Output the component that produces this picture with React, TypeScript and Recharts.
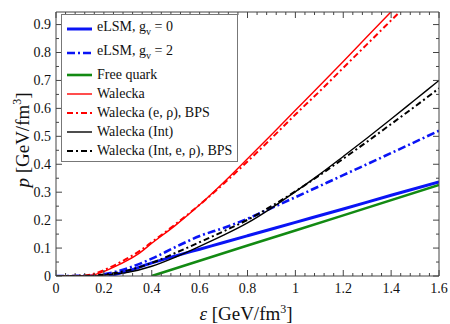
import React from 'react';
import { LineChart, Line, XAxis, YAxis, Legend } from 'recharts';

// energy density (GeV/fm^3) vs pressure (GeV/fm^3)
const eLSM0 = [
  { e: 0.22, p: 0 }, { e: 0.3, p: 0.018 }, { e: 0.4, p: 0.047 }, { e: 0.5, p: 0.072 },
  { e: 0.6, p: 0.096 }, { e: 0.7, p: 0.12 }, { e: 0.8, p: 0.144 }, { e: 1.0, p: 0.192 },
  { e: 1.2, p: 0.24 }, { e: 1.4, p: 0.289 }, { e: 1.6, p: 0.337 },
];
const eLSM2 = [
  { e: 0, p: 0 }, { e: 0.15, p: 0.001 }, { e: 0.2, p: 0.006 }, { e: 0.25, p: 0.015 },
  { e: 0.3, p: 0.028 }, { e: 0.4, p: 0.062 }, { e: 0.5, p: 0.104 }, { e: 0.6, p: 0.143 },
  { e: 0.7, p: 0.172 }, { e: 0.8, p: 0.205 }, { e: 0.9, p: 0.243 }, { e: 1.0, p: 0.282 },
  { e: 1.2, p: 0.361 }, { e: 1.4, p: 0.44 }, { e: 1.6, p: 0.52 },
];
const freeQuark = [
  { e: 0.4, p: 0 }, { e: 0.8, p: 0.109 }, { e: 1.2, p: 0.217 }, { e: 1.6, p: 0.326 },
];
const walecka = [
  { e: 0, p: 0 }, { e: 0.1, p: 0 }, { e: 0.15, p: 0.003 }, { e: 0.2, p: 0.016 },
  { e: 0.25, p: 0.035 }, { e: 0.3, p: 0.057 }, { e: 0.35, p: 0.083 }, { e: 0.4, p: 0.117 },
  { e: 0.5, p: 0.182 }, { e: 0.6, p: 0.255 }, { e: 0.7, p: 0.335 }, { e: 0.8, p: 0.42 },
  { e: 0.9, p: 0.506 }, { e: 1.0, p: 0.593 }, { e: 1.1, p: 0.68 }, { e: 1.2, p: 0.768 },
  { e: 1.3, p: 0.857 }, { e: 1.4, p: 0.946 }, { e: 1.5, p: 1.035 },
];
const waleckaBPS = [
  { e: 0, p: 0 }, { e: 0.1, p: 0.001 }, { e: 0.15, p: 0.006 }, { e: 0.2, p: 0.021 },
  { e: 0.25, p: 0.041 }, { e: 0.3, p: 0.064 }, { e: 0.35, p: 0.09 }, { e: 0.4, p: 0.121 },
  { e: 0.5, p: 0.186 }, { e: 0.6, p: 0.255 }, { e: 0.7, p: 0.33 }, { e: 0.8, p: 0.41 },
  { e: 0.9, p: 0.493 }, { e: 1.0, p: 0.578 }, { e: 1.1, p: 0.66 }, { e: 1.2, p: 0.745 },
  { e: 1.3, p: 0.83 }, { e: 1.4, p: 0.915 }, { e: 1.5, p: 1.0 },
];
const waleckaInt = [
  { e: 0, p: 0 }, { e: 0.15, p: 0 }, { e: 0.2, p: 0.003 }, { e: 0.3, p: 0.013 },
  { e: 0.4, p: 0.035 }, { e: 0.5, p: 0.068 }, { e: 0.6, p: 0.106 }, { e: 0.7, p: 0.146 },
  { e: 0.8, p: 0.19 }, { e: 0.9, p: 0.243 }, { e: 1.0, p: 0.302 }, { e: 1.1, p: 0.363 },
  { e: 1.2, p: 0.428 }, { e: 1.3, p: 0.494 }, { e: 1.4, p: 0.562 }, { e: 1.5, p: 0.631 },
  { e: 1.6, p: 0.7 },
];
const waleckaIntBPS = [
  { e: 0, p: 0 }, { e: 0.15, p: 0.001 }, { e: 0.2, p: 0.005 }, { e: 0.3, p: 0.02 },
  { e: 0.4, p: 0.047 }, { e: 0.5, p: 0.083 }, { e: 0.6, p: 0.121 }, { e: 0.7, p: 0.16 },
  { e: 0.8, p: 0.201 }, { e: 0.9, p: 0.25 }, { e: 1.0, p: 0.303 }, { e: 1.1, p: 0.36 },
  { e: 1.2, p: 0.42 }, { e: 1.3, p: 0.481 }, { e: 1.4, p: 0.544 }, { e: 1.5, p: 0.607 },
  { e: 1.6, p: 0.672 },
];

const xMajor = [0, 0.2, 0.4, 0.6, 0.8, 1, 1.2, 1.4, 1.6];
const yMajor = [0, 0.1, 0.2, 0.3, 0.4, 0.5, 0.6, 0.7, 0.8, 0.9];
// minor ticks: 4 between x majors, 1 between y majors
const xTicks = Array.from({ length: 41 }, (_, i) => +(i * 0.04).toFixed(2));
const yTicks = Array.from({ length: 19 }, (_, i) => +(i * 0.05).toFixed(2));

const series = [
  { key: 'eLSM0', data: eLSM0, color: '#0a14f5', width: 3, dash: undefined },
  { key: 'eLSM2', data: eLSM2, color: '#0a14f5', width: 2.6, dash: '8 3 2 3' },
  { key: 'free', data: freeQuark, color: '#128a12', width: 2.6, dash: undefined },
  { key: 'walecka', data: walecka, color: '#ff0000', width: 1.4, dash: undefined },
  { key: 'waleckaBPS', data: waleckaBPS, color: '#ff0000', width: 2, dash: '6 3 2 3' },
  { key: 'waleckaInt', data: waleckaInt, color: '#000000', width: 1.4, dash: undefined },
  { key: 'waleckaIntBPS', data: waleckaIntBPS, color: '#000000', width: 2, dash: '6 3 2 3' },
];

const FONT = "'Liberation Serif', 'Times New Roman', Times, 'DejaVu Serif', serif";

const legendRows: { key: string; label: React.ReactNode; h: number }[] = [
  { key: 'eLSM0', label: <>eLSM, g<sub style={{ fontSize: 10 }}>v</sub> = 0</>, h: 24 },
  { key: 'eLSM2', label: <>eLSM, g<sub style={{ fontSize: 10 }}>v</sub> = 2</>, h: 24 },
  { key: 'free', label: 'Free quark', h: 19 },
  { key: 'walecka', label: 'Walecka', h: 19 },
  { key: 'waleckaBPS', label: 'Walecka (e, ρ), BPS', h: 19 },
  { key: 'waleckaInt', label: 'Walecka (Int)', h: 19 },
  { key: 'waleckaIntBPS', label: 'Walecka (Int, e, ρ), BPS', h: 19 },
];

const AX = '#444';
const isMajor = (v: number, step: number) => Math.abs(v / step - Math.round(v / step)) < 1e-6;
const fmt = (v: number) => String(+v.toFixed(1));

const BottomTick = (props: any) => {
  const { x, y, payload } = props;
  const major = isMajor(payload.value, 0.2);
  return (
    <g>
      <line x1={x} x2={x} y1={y} y2={y - (major ? 6 : 3)} stroke={AX} />
      {major && (
        <text x={x} y={y + 17} textAnchor="middle" fontSize={14} fontFamily={FONT} fill="#111">{fmt(payload.value)}</text>
      )}
    </g>
  );
};
const TopTick = (props: any) => {
  const { x, y, payload } = props;
  const major = isMajor(payload.value, 0.2);
  return <line x1={x} x2={x} y1={y} y2={y + (major ? 6 : 3)} stroke={AX} />;
};
const LeftTick = (props: any) => {
  const { x, y, payload } = props;
  const major = isMajor(payload.value, 0.1);
  return (
    <g>
      <line x1={x} x2={x + (major ? 6 : 3)} y1={y} y2={y} stroke={AX} />
      {major && (
        <text x={x - 5} y={y} dy="0.35em" textAnchor="end" fontSize={14} fontFamily={FONT} fill="#111">{fmt(payload.value)}</text>
      )}
    </g>
  );
};
const RightTick = (props: any) => {
  const { x, y, payload } = props;
  const major = isMajor(payload.value, 0.1);
  return <line x1={x} x2={x - (major ? 6 : 3)} y1={y} y2={y} stroke={AX} />;
};

const LegendBox = () => (
  <div style={{ border: '1px solid #777', background: '#fff', padding: '2px 0 1px 0', width: 175, overflow: 'hidden', boxSizing: 'content-box', fontFamily: FONT }}>
    {legendRows.map(r => {
      const s = series.find(q => q.key === r.key)!;
      return (
        <div key={r.key} style={{ height: r.h, display: 'flex', alignItems: 'center', whiteSpace: 'nowrap' }}>
          <svg width={35} height={8} style={{ flex: 'none' }}>
            <line x1={5} x2={30} y1={4} y2={4} stroke={s.color} strokeWidth={s.width} strokeDasharray={s.dash} />
          </svg>
          <span style={{ fontSize: 14, color: '#111', lineHeight: '14px', fontFamily: FONT, fontWeight: 400 }}>{r.label}</span>
        </div>
      );
    })}
  </div>
);

export default function App() {
  return (
    <div style={{ position: 'absolute', left: 0, top: 0, fontFamily: FONT, background: '#fff' }}>
      <LineChart width={450} height={324} margin={{ top: 0, right: 0, bottom: 0, left: 0 }}>
        <XAxis xAxisId="b" type="number" dataKey="e" domain={[0, 1.6]} ticks={xTicks} interval={0}
          allowDataOverflow height={48} tickSize={0} tickMargin={0} tickLine={false}
          axisLine={{ stroke: AX }} tick={(p: any) => <BottomTick {...p} />} />
        <XAxis xAxisId="t" orientation="top" type="number" dataKey="e" domain={[0, 1.6]} ticks={xTicks} interval={0}
          allowDataOverflow height={12} tickSize={0} tickMargin={0} tickLine={false}
          axisLine={{ stroke: AX }} tick={(p: any) => <TopTick {...p} />} />
        <YAxis yAxisId="l" type="number" domain={[0, 0.945]} ticks={yTicks} interval={0}
          allowDataOverflow width={56} tickSize={0} tickMargin={0} tickLine={false}
          axisLine={{ stroke: AX }} tick={(p: any) => <LeftTick {...p} />} />
        <YAxis yAxisId="r" orientation="right" type="number" domain={[0, 0.945]} ticks={yTicks} interval={0}
          allowDataOverflow width={11} tickSize={0} tickMargin={0} tickLine={false}
          axisLine={{ stroke: AX }} tick={(p: any) => <RightTick {...p} />} />
        <Legend layout="vertical" align="center" verticalAlign="middle" content={() => <LegendBox />}
          wrapperStyle={{ left: 61, top: 14, width: 'auto', height: 'auto' }} />
        {series.map(s => (
          <Line key={s.key} xAxisId="b" yAxisId="l" data={s.data} dataKey="p" type="monotone"
            stroke={s.color} strokeWidth={s.width} strokeDasharray={s.dash}
            dot={false} activeDot={false} isAnimationActive={false} />
        ))}
      </LineChart>
      <div style={{ position: 'absolute', left: 22, top: 140, transform: 'translate(-50%, -50%) rotate(-90deg)', whiteSpace: 'nowrap', fontSize: 19, color: '#111', fontFamily: FONT }}>
        <i>p</i> [GeV/fm<sup style={{ fontSize: 12 }}>3</sup>]
      </div>
      <div style={{ position: 'absolute', left: 246, top: 302, transform: 'translateX(-50%)', whiteSpace: 'nowrap', fontSize: 19, color: '#111', fontFamily: FONT }}>
        <i>ε</i> [GeV/fm<sup style={{ fontSize: 12 }}>3</sup>]
      </div>
    </div>
  );
}
